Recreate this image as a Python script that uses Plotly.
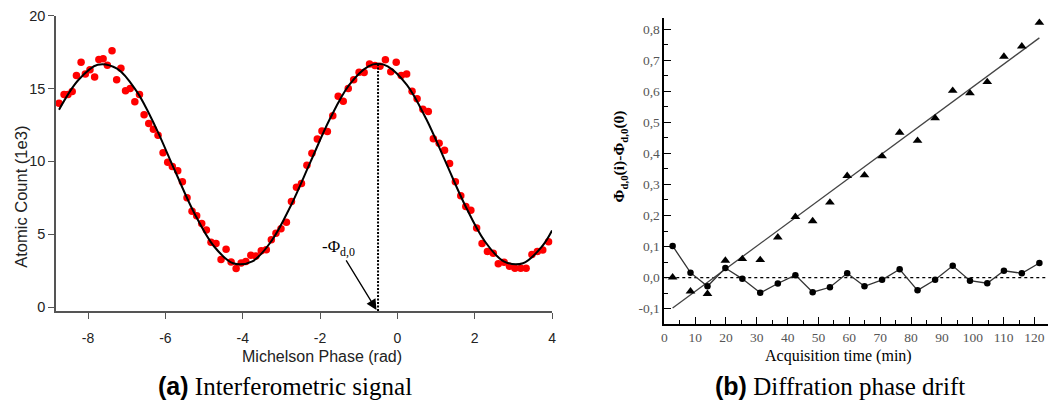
import plotly.graph_objects as go

W, H = 1055, 414

# ---------------- (a) data ----------------
phase_rad = [-8.75, -8.62, -8.52, -8.41, -8.30, -8.18, -8.07, -7.95, -7.83, -7.72, -7.61, -7.50, -7.38,
             -7.26, -7.15, -7.03, -6.91, -6.79, -6.67, -6.55, -6.43, -6.31, -6.19, -6.06, -5.94, -5.82,
             -5.68, -5.56, -5.44,
             -5.31, -5.19, -5.06, -4.94, -4.82, -4.69, -4.56, -4.43, -4.30, -4.17, -4.04, -3.92, -3.79,
             -3.66, -3.52, -3.39, -3.26, -3.14, -3.01, -2.87, -2.74, -2.61,
             -2.48, -2.34, -2.21, -2.07, -1.95, -1.81, -1.67, -1.53, -1.40, -1.27, -1.13, -0.99, -0.86,
             -0.72, -0.58, -0.45, -0.31, -0.17, -0.03, 0.10, 0.24, 0.38, 0.51, 0.66, 0.80, 0.93, 1.08,
             1.22, 1.35, 1.50, 1.64,
             1.77, 1.90, 2.05, 2.19, 2.33, 2.48, 2.61, 2.76, 2.90, 3.04, 3.19, 3.33, 3.48, 3.62, 3.76,
             3.91, 4.05]
atomic_count = [14.0, 14.6, 14.6, 14.8, 15.9, 16.8, 16.0, 16.3, 15.8, 17.0, 17.05, 16.6, 17.6,
                15.6, 16.4, 14.85, 15.0, 14.1, 14.6, 13.2, 12.6, 12.2, 11.8, 10.6, 9.95, 9.65,
                9.35, 8.6, 7.5,
                6.58, 6.27, 5.73, 5.29, 4.44, 4.36, 3.27, 3.96, 3.1, 2.64, 3.02, 3.13, 3.56,
                3.51, 3.87, 3.93, 4.62, 5.07, 5.38, 5.82, 7.24, 8.22,
                8.49, 9.73, 10.56, 11.53, 12.09, 12.05, 13.13, 14.47, 14.13, 15.0, 15.6, 16.13, 16.11,
                16.69, 16.58, 16.53, 16.98, 16.16, 16.8, 15.89, 16.0, 14.82, 14.31, 13.58, 13.42, 11.55, 11.24,
                10.76, 9.85, 8.6, 7.64,
                6.91, 6.64, 5.42, 4.36, 3.82, 3.69, 2.98, 3.07, 2.8, 2.67, 2.67, 2.67, 3.6, 3.82, 3.91,
                4.49, 5.64]

fit_phase = [-8.75, -8.25, -7.75, -7.25, -6.75, -6.25, -5.75, -5.25, -4.75, -4.25, -3.75, -3.25,
             -2.75, -2.25, -1.75, -1.25, -0.75, -0.5, -0.25, 0.25, 0.75, 1.25, 1.75, 2.25, 2.75,
             3.25, 3.75, 4.0]
fit_count = [13.55, 15.59, 16.64, 16.37, 14.84, 12.34, 9.34, 6.44, 4.19, 3.01, 3.14, 4.56,
             6.99, 9.95, 12.89, 15.24, 16.53, 16.70, 16.53, 15.24, 12.89, 9.95, 6.99, 4.56, 3.14,
             3.01, 4.19, 5.25]

phi_d0 = -0.5
phi_d0_count = 16.7

a_xticks = [-8, -6, -4, -2, 0, 2, 4]
a_xticklabels = ["-8", "-6", "-4", "-2", "0", "2", "4"]
a_yticks = [0, 5, 10, 15, 20]
a_yticklabels = ["0", "5", "10", "15", "20"]

# ---------------- (b) data ----------------
time_min = [2.7, 8.5, 14.0, 19.8, 25.3, 31.1, 36.8, 42.5, 48.1, 53.7, 59.3, 64.9, 70.6, 76.3,
            82.1, 87.8, 93.5, 99.1, 104.7, 110.1, 115.9, 121.6]
drift_spade = [0.001, -0.044, -0.052, 0.055, 0.060, 0.057, 0.130, 0.196, 0.182, 0.242, 0.328,
               0.330, 0.391, 0.467, 0.441, 0.514, 0.602, 0.594, 0.630, 0.712, 0.745, 0.821]
drift_circle = [0.102, 0.016, -0.028, 0.031, -0.004, -0.049, -0.019, 0.008, -0.047, -0.031, 0.014,
                -0.028, -0.007, 0.027, -0.041, -0.007, 0.038, -0.010, -0.018, 0.022, 0.014, 0.047]
fit_time = [2.7, 121.6]
fit_drift = [-0.098, 0.772]
zero_time = [0, 124.3]
zero_drift = [0, 0]

b_xticks = [0, 10, 20, 30, 40, 50, 60, 70, 80, 90, 100, 110, 120]
b_xticklabels = ["0", "10", "20", "30", "40", "50", "60", "70", "80", "90", "100", "110", "120"]
b_yticks = [-0.1, 0.0, 0.1, 0.2, 0.3, 0.4, 0.5, 0.6, 0.7, 0.8]
b_yticklabels = ["-0,1", "0,0", "0,1", "0,2", "0,3", "0,4", "0,5", "0,6", "0,7", "0,8"]


def px(x):
    return x / W


def py(y):
    return 1 - y / H


fig = go.Figure()

# (a) traces
fig.add_trace(go.Scatter(x=phase_rad, y=atomic_count, mode="markers",
                         marker=dict(color="#ff0000", size=7.5, line=dict(width=0)),
                         xaxis="x", yaxis="y", cliponaxis=False, showlegend=False))
fig.add_trace(go.Scatter(x=fit_phase, y=fit_count, mode="lines", line=dict(color="black", width=2, shape="spline"),
                         xaxis="x", yaxis="y", showlegend=False))
fig.add_trace(go.Scatter(x=[phi_d0, phi_d0], y=[-0.27, phi_d0_count], mode="lines",
                         line=dict(color="black", width=2, dash="2px,1.5px"),
                         xaxis="x", yaxis="y", showlegend=False))

# (b) traces
fig.add_trace(go.Scatter(x=zero_time, y=zero_drift, mode="lines",
                         line=dict(color="black", width=1.2, dash="dot"),
                         xaxis="x2", yaxis="y2", showlegend=False))
fig.add_trace(go.Scatter(x=fit_time, y=fit_drift, mode="lines",
                         line=dict(color="#444444", width=1.3),
                         xaxis="x2", yaxis="y2", showlegend=False))
fig.add_trace(go.Scatter(x=time_min, y=drift_circle, mode="lines+markers",
                         line=dict(color="#333333", width=1.3),
                         marker=dict(color="black", size=6.5, symbol="circle"),
                         xaxis="x2", yaxis="y2", showlegend=False))
fig.add_trace(go.Scatter(x=time_min, y=drift_spade, mode="markers",
                         marker=dict(color="black", size=8.5, symbol="triangle-up"),
                         xaxis="x2", yaxis="y2", cliponaxis=False, showlegend=False))

sans = "Liberation Sans, Arial, sans-serif"
serif = "Liberation Serif, Times New Roman, serif"

fig.update_layout(
    width=W, height=H,
    margin=dict(l=0, r=0, t=0, b=0),
    paper_bgcolor="white", plot_bgcolor="white",
    showlegend=False,
    xaxis=dict(domain=[px(53.3), px(552.7)], range=[-8.83, 4.0], anchor="y",
               showgrid=False, zeroline=False, showline=True, linecolor="#555555", linewidth=1.5,
               ticks="outside", ticklen=6, tickwidth=1.3, tickcolor="#555555",
               tickvals=a_xticks, ticktext=a_xticklabels, ticklabelstandoff=7,
               tickfont=dict(family=sans, size=14, color="#222222")),
    yaxis=dict(domain=[py(312), py(8)], range=[-0.27, 20], anchor="x",
               showgrid=False, zeroline=False, showline=True, linecolor="#555555", linewidth=1.5,
               ticks="outside", ticklen=6, tickwidth=1.3, tickcolor="#555555",
               tickvals=a_yticks, ticktext=a_yticklabels,
               tickfont=dict(family=sans, size=14.5, color="#222222")),
    xaxis2=dict(domain=[px(665.7), px(1051.7)], range=[0, 124.3], anchor="y2",
                showgrid=False, zeroline=False, showline=True, linecolor="black", linewidth=1.5,
                ticks="inside", ticklen=7, tickwidth=1.3, tickcolor="black",
                tickvals=b_xticks, ticktext=b_xticklabels,
                minor=dict(ticks="inside", ticklen=3.5, tickwidth=1.2, tickcolor="black",
                           tickmode="linear", tick0=5, dtick=10),
                tickfont=dict(family=serif, size=13.5, color="#555555")),
    yaxis2=dict(domain=[py(325), py(10)], range=[-0.148, 0.837], anchor="x2",
                showgrid=False, zeroline=False, showline=True, linecolor="black", linewidth=1.5,
                ticks="inside", ticklen=7, tickwidth=1.3, tickcolor="black",
                tickvals=b_yticks, ticktext=b_yticklabels,
                minor=dict(ticks="inside", ticklen=3.5, tickwidth=1.2, tickcolor="black",
                           tickmode="linear", tick0=-0.05, dtick=0.1),
                tickfont=dict(family=serif, size=13.5, color="#555555")),
)

annotations = [
    # (a) axis titles
    dict(text="Atomic Count (1e3)", x=px(18.5), y=py(194), xref="paper", yref="paper",
         textangle=-90, showarrow=False, font=dict(family=sans, size=16.5, color="#222222"),
         xanchor="center", yanchor="middle"),
    dict(text="Michelson Phase (rad)", x=px(321.5), y=py(358.5), xref="paper", yref="paper",
         showarrow=False, font=dict(family=sans, size=16, color="#222222"),
         xanchor="center", yanchor="middle"),
    # (a) phase annotation
    dict(text="-Φ<sub>d,0</sub>", x=-0.54, y=-0.2, xref="x", yref="y",
         ax=-38, ay=-62, showarrow=True, arrowhead=2, arrowsize=1.6, arrowwidth=1.3,
         arrowcolor="black", font=dict(family=serif, size=17, color="black")),
    # (b) axis titles
    dict(text="<b>Φ<sub>d,0</sub>(i)-Φ<sub>d,0</sub>(0)</b>", x=px(621), y=py(153),
         xref="paper", yref="paper", textangle=-90, showarrow=False,
         font=dict(family=serif, size=15.5, color="black"), xanchor="center", yanchor="middle"),
    dict(text="Acquisition time (min)", x=px(841), y=py(358), xref="paper", yref="paper",
         showarrow=False, font=dict(family=serif, size=16, color="black"),
         xanchor="center", yanchor="middle"),
    # captions
    dict(text='<span style="font-family:Liberation Sans"><b>(a)</b></span> Interferometric signal',
         x=px(284), y=py(389), xref="paper", yref="paper", showarrow=False,
         font=dict(family=serif, size=25, color="black"), xanchor="center", yanchor="middle"),
    dict(text='<span style="font-family:Liberation Sans"><b>(b)</b></span> Diffration phase drift',
         x=px(843), y=py(389), xref="paper", yref="paper", showarrow=False,
         font=dict(family=serif, size=25, color="black"), xanchor="center", yanchor="middle"),
]
fig.update_layout(annotations=annotations)

fig.write_html("out.html", config={"displayModeBar": False},
               post_script="document.body.style.margin='0px';")
